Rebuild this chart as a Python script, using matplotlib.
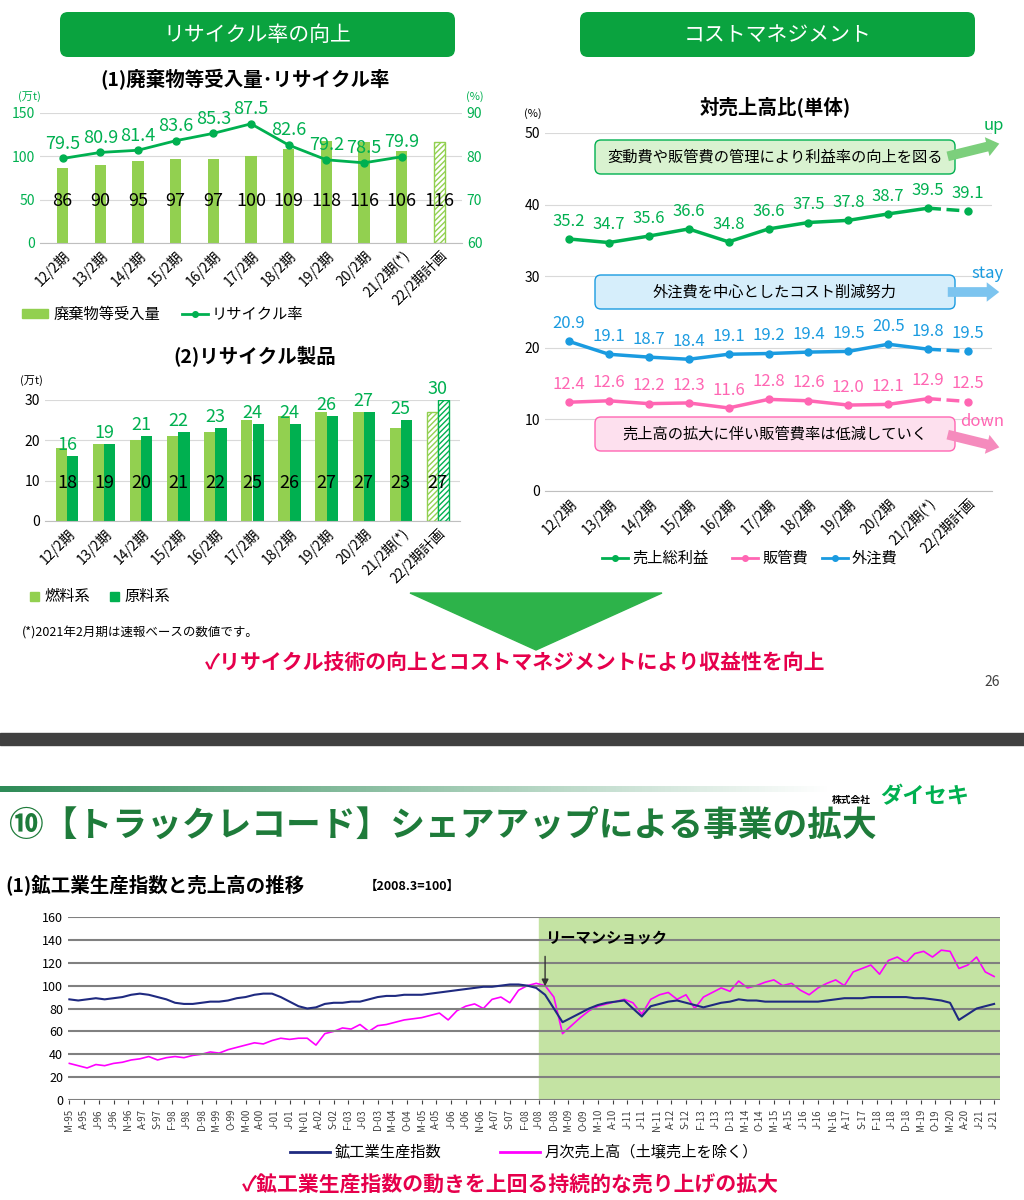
import matplotlib
matplotlib.use("Agg")
import matplotlib.pyplot as plt
from matplotlib.patches import FancyBboxPatch, Polygon, Rectangle
import numpy as np
import pandas as pd

plt.rcParams['font.family'] = ['Noto Sans CJK JP']
plt.rcParams['hatch.linewidth'] = 1.0

# ---------------- data ----------------
periods = ["12/2期", "13/2期", "14/2期", "15/2期", "16/2期", "17/2期", "18/2期", "19/2期", "20/2期", "21/2期(*)", "22/2期計画"]
waste_volume = [86, 90, 95, 97, 97, 100, 109, 118, 116, 106, 116]
recycle_rate = [79.5, 80.9, 81.4, 83.6, 85.3, 87.5, 82.6, 79.2, 78.5, 79.9]
fuel = [18, 19, 20, 21, 22, 25, 26, 27, 27, 23, 27]
raw = [16, 19, 21, 22, 23, 24, 24, 26, 27, 25, 30]
gross_margin = [35.2, 34.7, 35.6, 36.6, 34.8, 36.6, 37.5, 37.8, 38.7, 39.5, 39.1]
sga = [12.4, 12.6, 12.2, 12.3, 11.6, 12.8, 12.6, 12.0, 12.1, 12.9, 12.5]
outsourcing = [20.9, 19.1, 18.7, 18.4, 19.1, 19.2, 19.4, 19.5, 20.5, 19.8, 19.5]

# quarterly samples from 1995-03 to 2021-06
ip_index = [88, 87, 88, 89, 88, 89, 90, 92, 93, 92, 90, 88, 85, 84, 84, 85, 86, 86, 87, 89,
            90, 92, 93, 93, 90, 86, 82, 80, 81, 84, 85, 85, 86, 86, 88, 90, 91, 91, 92, 92,
            92, 93, 94, 95, 96, 97, 98, 99, 99, 100, 101, 101, 100, 98, 92, 80, 68, 72, 76, 80,
            83, 85, 86, 87, 80, 73, 82, 84, 86, 87, 85, 83, 81, 83, 85, 86, 88, 87, 87, 86,
            86, 86, 86, 86, 86, 86, 87, 88, 89, 89, 89, 90, 90, 90, 90, 90, 89, 89, 88, 87,
            85, 70, 75, 80, 82, 84]
monthly_sales = [32, 30, 28, 31, 30, 32, 33, 35, 36, 38, 35, 37, 38, 37, 39, 40, 42, 41, 44, 46,
                 48, 50, 49, 52, 54, 53, 54, 54, 48, 58, 60, 63, 62, 66, 60, 65, 66, 68, 70, 71,
                 72, 74, 76, 70, 78, 82, 84, 80, 88, 90, 85, 96, 100, 102, 100, 90, 58, 65, 72, 78,
                 82, 84, 86, 88, 85, 75, 88, 92, 94, 88, 92, 80, 90, 94, 98, 95, 104, 98, 100, 103,
                 105, 100, 102, 96, 92, 98, 102, 105, 100, 112, 115, 118, 110, 122, 125, 120, 128, 130, 125, 131,
                 130, 115, 118, 125, 112, 108]
dates = pd.date_range("1995-03-01", periods=len(ip_index), freq="3MS")

GREEN = "#00b050"
LGREEN = "#92d050"
MAG = "#ff66b3"
BLUE = "#1a9be0"
RED = "#e6004c"

W, H = 1024, 1200
fig = plt.figure(figsize=(W / 100, H / 100), dpi=100)

def axpx(x0, y0, x1, y1):
    return fig.add_axes([x0 / W, 1 - y1 / H, (x1 - x0) / W, (y1 - y0) / H])

def ftext(x, y, s, **kw):
    fig.text(x / W, 1 - y / H, s, **kw)

bg = fig.add_axes([0, 0, 1, 1]); bg.set_xlim(0, W); bg.set_ylim(H, 0); bg.axis("off")

# header boxes
for x0, x1, t in [(60, 455, "リサイクル率の向上"), (580, 975, "コストマネジメント")]:
    bg.add_patch(FancyBboxPatch((x0, 12), x1 - x0, 45, boxstyle="round,pad=0,rounding_size=8",
                                fc="#0aa33f", ec="none"))
    bg.text((x0 + x1) / 2, 35, t, color="white", fontsize=15, ha="center", va="center")

# ---------- chart 1 ----------
ax1 = axpx(40, 113, 462, 243)
x = np.arange(len(periods))
bars = ax1.bar(x, waste_volume, width=0.3, color=LGREEN, zorder=2)
bars[-1].set_facecolor("white"); bars[-1].set_edgecolor(LGREEN); bars[-1].set_hatch("//////")
for xi, v in zip(x, waste_volume):
    ax1.text(xi, 48, str(v), ha="center", va="center", fontsize=13, zorder=4)
ax1.set_ylim(0, 150); ax1.set_yticks([0, 50, 100, 150]); ax1.set_xlim(-0.6, 10.6)
ax1.grid(axis="y", color="#d9d9d9", zorder=0); ax1.set_axisbelow(True)
ax1.set_xticks(x); ax1.set_xticklabels(periods, rotation=45, ha="right", rotation_mode="anchor", fontsize=10)
ax1.tick_params(axis="y", colors=GREEN, labelsize=10, length=0)
ax1.tick_params(axis="x", length=0)
for s in ax1.spines.values(): s.set_visible(False)
ax1.spines["bottom"].set_visible(True); ax1.spines["bottom"].set_color("#bfbfbf")
ax1r = ax1.twinx()
ax1r.plot(x[:len(recycle_rate)], recycle_rate, color=GREEN, marker="o", ms=5, lw=2)
for xi, v in zip(x, recycle_rate):
    ax1r.text(xi, v + 1.3, f"{v}", ha="center", va="bottom", color=GREEN, fontsize=13)
ax1r.set_ylim(60, 90); ax1r.set_yticks([60, 70, 80, 90])
ax1r.tick_params(axis="y", colors=GREEN, labelsize=10, length=0)
for s in ax1r.spines.values(): s.set_visible(False)
ftext(18, 100, "(万t)", fontsize=8, color=GREEN)
ftext(466, 100, "(%)", fontsize=8, color=GREEN)
ftext(245, 80, "(1)廃棄物等受入量･リサイクル率", fontsize=14, weight="bold", ha="center", va="center")
bg.add_patch(Rectangle((22, 309), 26, 9, color=LGREEN))
bg.text(54, 314, "廃棄物等受入量", fontsize=11, va="center")
bg.plot([182, 208], [314, 314], color=GREEN, lw=2); bg.plot([195], [314], "o", color=GREEN, ms=4)
bg.text(212, 314, "リサイクル率", fontsize=11, va="center")

# ---------- chart 2 ----------
ax2 = axpx(45, 400, 460, 521)
bw = 0.3
b1 = ax2.bar(x - bw / 2, fuel, width=bw, color=LGREEN, zorder=2)
b2 = ax2.bar(x + bw / 2, raw, width=bw, color=GREEN, zorder=2)
for b, c in [(b1[-1], LGREEN), (b2[-1], GREEN)]:
    b.set_facecolor("white"); b.set_edgecolor(c); b.set_hatch("//////")
for xi, v in zip(x, fuel):
    ax2.text(xi, 9.5, str(v), ha="center", va="center", fontsize=13, zorder=4)
for xi, v in zip(x, raw):
    ax2.text(xi, v + 0.6, str(v), ha="center", va="bottom", fontsize=13, color=GREEN, zorder=4)
ax2.set_ylim(0, 30); ax2.set_yticks([0, 10, 20, 30]); ax2.set_xlim(-0.6, 10.6)
ax2.grid(axis="y", color="#d9d9d9"); ax2.set_axisbelow(True)
ax2.set_xticks(x); ax2.set_xticklabels(periods, rotation=45, ha="right", rotation_mode="anchor", fontsize=10)
ax2.tick_params(length=0, labelsize=10)
for s in ax2.spines.values(): s.set_visible(False)
ax2.spines["bottom"].set_visible(True); ax2.spines["bottom"].set_color("#bfbfbf")
ftext(20, 384, "(万t)", fontsize=8)
ftext(255, 357, "(2)リサイクル製品", fontsize=14, weight="bold", ha="center", va="center")
bg.add_patch(Rectangle((30, 592), 9, 9, color=LGREEN)); bg.text(44, 597, "燃料系", fontsize=11, va="center")
bg.add_patch(Rectangle((110, 592), 9, 9, color=GREEN)); bg.text(124, 597, "原料系", fontsize=11, va="center")
ftext(22, 633, "(*)2021年2月期は速報ベースの数値です。", fontsize=9, va="center")

# ---------- chart 3 ----------
ax3 = axpx(545, 133, 992, 491)
for vals, c in [(gross_margin, GREEN), (sga, MAG), (outsourcing, BLUE)]:
    ax3.plot(x[:10], vals[:10], color=c, lw=2.5, marker="o", ms=5)
    ax3.plot(x[9:], vals[9:], color=c, lw=2.5, ls="--", marker="o", ms=5, markevery=[1])
    for xi, v in zip(x, vals):
        ax3.text(xi, v + 1.3, f"{v}", ha="center", va="bottom", color=c, fontsize=12)
ax3.set_ylim(0, 50); ax3.set_yticks(range(0, 51, 10)); ax3.set_xlim(-0.6, 10.6)
ax3.grid(axis="y", color="#d9d9d9"); ax3.set_axisbelow(True)
ax3.set_xticks(x); ax3.set_xticklabels(periods, rotation=45, ha="right", rotation_mode="anchor", fontsize=10)
ax3.tick_params(length=0, labelsize=10)
for s in ax3.spines.values(): s.set_visible(False)
ax3.spines["bottom"].set_visible(True); ax3.spines["bottom"].set_color("#bfbfbf")
ftext(524, 117, "(%)", fontsize=8)
ftext(775, 107, "対売上高比(単体)", fontsize=14, weight="bold", ha="center", va="center")
for xx, c, t in [(602, GREEN, "売上総利益"), (732, MAG, "販管費"), (822, BLUE, "外注費")]:
    bg.plot([xx, xx + 26], [558, 558], color=c, lw=2); bg.plot([xx + 13], [558], "o", color=c, ms=4)
    bg.text(xx + 30, 558, t, fontsize=11, va="center")

# arrow triangle & message
bg.add_patch(Polygon([[410, 593], [662, 593], [536, 650]], color="#2db34a"))
bg.text(515, 662, "✓リサイクル技術の向上とコストマネジメントにより収益性を向上", color=RED,
        fontsize=15, weight="bold", ha="center", va="center")
bg.text(1000, 682, "26", fontsize=10, ha="right", va="center", color="#404040")

# divider
bg.add_patch(Rectangle((0, 733), W, 12, color="#404040"))
grad = np.linspace(1, 0, 256).reshape(1, -1)
bg.imshow(grad, extent=(0, 830, 792, 786), cmap=matplotlib.colors.LinearSegmentedColormap.from_list(
    "g", ["#ffffff", "#2e8b57"]), aspect="auto")
bg.set_xlim(0, W); bg.set_ylim(H, 0)
bg.text(8, 825, "⑩【トラックレコード】シェアアップによる事業の拡大", color="#1e7b3a",
        fontsize=25, weight="bold", va="center")
bg.text(832, 800, "株式会社", fontsize=7, weight="bold", va="center")
bg.text(880, 797, "ダイセキ", fontsize=16, weight="bold", style="italic", color=GREEN, va="center")
bg.text(5, 885, "(1)鉱工業生産指数と売上高の推移", fontsize=14, weight="bold", va="center")
bg.text(365, 886, "【2008.3=100】", fontsize=9, weight="bold", va="center")

# ---------- chart 4 ----------
ax4 = axpx(68, 917, 1000, 1100)
ax4.axvspan(pd.Timestamp("2008-07-01"), pd.Timestamp("2021-08-01"), color="#c4e3a3", zorder=0)
ax4.plot(dates, ip_index, color="#1f2a80", lw=1.5, zorder=3)
ax4.plot(dates, monthly_sales, color="#ff00ff", lw=1.2, zorder=2)
ax4.set_ylim(0, 160); ax4.set_yticks(range(0, 161, 20))
ax4.set_xlim(pd.Timestamp("1995-02-15"), pd.Timestamp("2021-08-01"))
ax4.grid(axis="y", color="#808080", lw=1.5); ax4.set_axisbelow(False)
for s in ax4.spines.values(): s.set_visible(False)
ticks = pd.date_range("1995-03-01", "2021-07-01", freq="5MS")
ax4.set_xticks(ticks)
ax4.set_xticklabels([f"{d.strftime('%b')[0]}-{d.strftime('%y')}" for d in ticks], rotation=90, fontsize=7)
ax4.tick_params(axis="x", length=3, colors="#404040")
ax4.tick_params(axis="y", length=0, labelsize=9)
ax4.annotate("", xy=(pd.Timestamp("2008-09-01"), 97), xytext=(pd.Timestamp("2008-09-01"), 128),
             arrowprops=dict(arrowstyle="-|>", color="#333333", lw=1))
ax4.text(pd.Timestamp("2008-09-01"), 142, "リーマンショック", fontsize=11, weight="bold", va="center")
bg.plot([290, 330], [1152, 1152], color="#1f2a80", lw=2)
bg.text(335, 1152, "鉱工業生産指数", fontsize=11, va="center")
bg.plot([500, 540], [1152, 1152], color="#ff00ff", lw=2)
bg.text(545, 1152, "月次売上高（土壌売上を除く）", fontsize=11, va="center")
bg.text(510, 1185, "✓鉱工業生産指数の動きを上回る持続的な売り上げの拡大", color=RED,
        fontsize=15, weight="bold", ha="center", va="center")

# ---------- overlay callouts (drawn above chart 3) ----------
ov = fig.add_axes([0, 0, 1, 1]); ov.set_xlim(0, W); ov.set_ylim(H, 0); ov.axis("off")
ov.patch.set_alpha(0)
for y, t, fc, ec, ac, tc, lab, dy in [
        (157, "変動費や販管費の管理により利益率の向上を図る", "#d9f2d0", GREEN, "#7ccf7c", GREEN, "up", -14),
        (292, "外注費を中心としたコスト削減努力", "#d6eefb", BLUE, "#7cc4ef", BLUE, "stay", 0),
        (434, "売上高の拡大に伴い販管費率は低減していく", "#fde0ee", MAG, "#f58bbd", MAG, "down", 14)]:
    ov.annotate("", xy=(1002, y + dy), xytext=(945, y),
                arrowprops=dict(arrowstyle="simple,head_width=1.4,head_length=0.9,tail_width=0.7",
                                fc=ac, ec="none"))
    ov.add_patch(FancyBboxPatch((595, y - 17), 360, 34, boxstyle="round,pad=0,rounding_size=6",
                                fc=fc, ec=ec, lw=1))
    ov.text(775, y, t, fontsize=11, ha="center", va="center")
    ly = {"up": 126, "stay": 273, "down": 422}[lab]
    ov.text(1004, ly, lab, color=tc, fontsize=12, ha="right", va="center")

fig.savefig("out.png", dpi=100)
